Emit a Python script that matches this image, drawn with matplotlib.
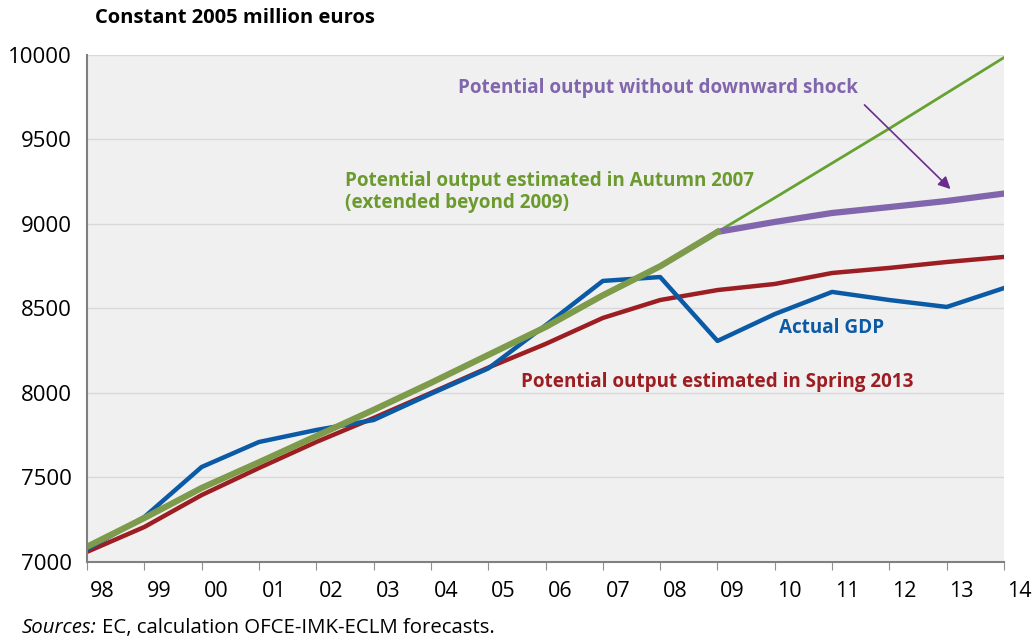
import matplotlib

matplotlib.use("Agg")
import matplotlib.pyplot as plt
from matplotlib.transforms import ScaledTranslation

plt.rcParams["font.family"] = ["Open Sans", "DejaVu Sans"]

years = list(range(1998, 2015))
year_labels = ["98", "99", "00", "01", "02", "03", "04", "05", "06", "07",
               "08", "09", "10", "11", "12", "13", "14"]

actual_gdp = [7075, 7266, 7562, 7710, 7781, 7840, 7995, 8145, 8400, 8663,
              8686, 8308, 8467, 8598, 8550, 8509, 8621]
spring_2013 = [7060, 7207, 7396, 7556, 7710, 7852, 8000, 8150, 8290, 8444,
               8550, 8609, 8645, 8710, 8740, 8775, 8805]
autumn_2007 = [7090, 7260, 7438, 7590, 7745, 7900, 8060, 8225, 8390, 8578,
               8750, 8953]
autumn_2007_ext = [8953, 9155, 9360, 9565, 9775, 9985]
no_shock = [8953, 9012, 9065, 9100, 9136, 9180]

BLUE = "#0b5aa6"
RED = "#9c1d22"
GREEN_THICK = "#7d9b4b"
GREEN_THIN = "#66a232"
GREEN_TEXT = "#6b9a2f"
PURPLE = "#8266ad"

fig = plt.figure(figsize=(10.33, 6.39), dpi=100)
ax = fig.add_axes([0.0842, 0.1205, 0.8878, 0.7935])
ax.set_facecolor("#f0f0f0")

ax.plot(years[11:], autumn_2007_ext, color=GREEN_THIN, lw=2, solid_capstyle="round")
ax.plot(years[11:], no_shock, color=PURPLE, lw=4.5, solid_capstyle="round")
ax.plot(years, spring_2013, color=RED, lw=3.2)
ax.plot(years, actual_gdp, color=BLUE, lw=3.2)
ax.plot(years[:12], autumn_2007, color=GREEN_THICK, lw=4.5)

ax.set_xlim(1998, 2014)
ax.set_ylim(7000, 10000)
ax.set_xticks(years)
ax.set_xticklabels(year_labels)
ax.set_yticks(range(7000, 10001, 500))
ax.grid(axis="y", color="#d8d8d8", lw=1)
ax.set_axisbelow(True)

for side in ("top", "right"):
    ax.spines[side].set_visible(False)
for side in ("left", "bottom"):
    ax.spines[side].set_color("#808080")
    ax.spines[side].set_linewidth(1.5)

ax.tick_params(axis="x", direction="out", length=6, color="#909090", pad=8,
               labelsize=15.5)
ax.tick_params(axis="y", length=0, pad=11, labelsize=16)
shift = ScaledTranslation(0.15, 0, fig.dpi_scale_trans)
for lab in ax.get_xticklabels():
    lab.set_transform(lab.get_transform() + shift)

fig.text(0.092, 0.972, "Constant 2005 million euros", fontsize=14.5,
         fontweight="bold", va="center", ha="left")

ax.text(2004.48, 9805, "Potential output without downward shock",
        color=PURPLE, fontsize=13.6, fontweight="bold", va="center")
ax.annotate("", xy=(2013.1, 9195), xytext=(2011.53, 9716),
            arrowprops=dict(arrowstyle="-|>", color="#6a2c8e", lw=1.2,
                            mutation_scale=18))
ax.text(2002.5, 9190, "Potential output estimated in Autumn 2007\n(extended beyond 2009)",
        color=GREEN_TEXT, fontsize=13.6, fontweight="bold", va="center",
        linespacing=1.1)
ax.text(2010.08, 8385, "Actual GDP", color=BLUE, fontsize=13.6,
        fontweight="bold", va="center")
ax.text(2005.58, 8065, "Potential output estimated in Spring 2013", color=RED,
        fontsize=13.6, fontweight="bold", va="center")

t1 = fig.text(0.021, 0.017, "Sources:", fontsize=14.7, style="italic",
              va="center", ha="left")
fig.canvas.draw()
bb = t1.get_window_extent()
fig.text(bb.x1 / fig.bbox.width + 0.005, 0.017,
         "EC, calculation OFCE-IMK-ECLM forecasts.", fontsize=14.7,
         va="center", ha="left")

fig.savefig("out.png", dpi=100)
